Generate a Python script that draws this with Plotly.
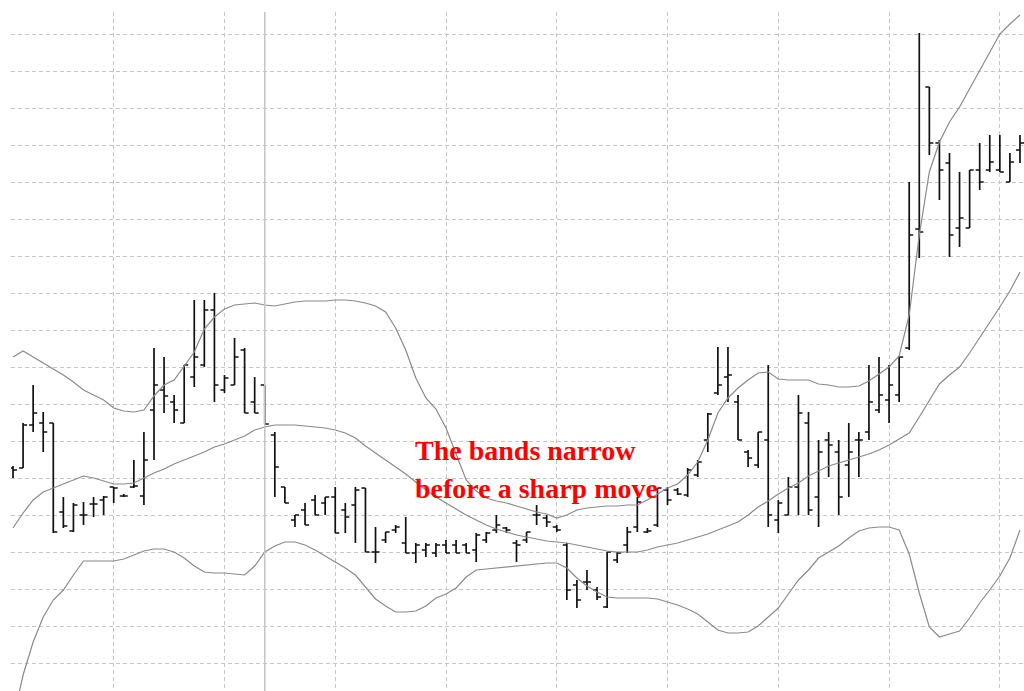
import plotly.graph_objects as go

# Bar index (one bar per session)
bars = list(range(101))

opens = [232, 232, 275, 277, 277, 188, 169, 185, 196, 200,
         213, 204, 213, 204, 290, 310, 298, 277, 323, 335,
         390, 310, 315, 350, 298, 315, 265, 213, 180, 190,
         200, 197, 203, 190, 195, 212, 148, 160, 170, 157,
         147, 150, 147, 155, 155, 155, 150, 160, 170, 172,
         157, 160, 185, 182, 173, 155, 115, 118, 110, 93,
         140, 155, 173, 168, 175, 210, 210, 205, 225, 260,
         307, 323, 298, 248, 235, 260, 180, 185, 213, 277,
         203, 260, 248, 235, 260, 268, 290, 300, 305, 352,
         471, 613, 557, 537, 472, 472, 530, 530, 530, 518, 550]
highs = [234, 277, 315, 288, 277, 203, 197, 198, 203, 204,
         213, 206, 240, 268, 352, 343, 305, 335, 400, 400,
         407, 325, 362, 352, 323, 315, 268, 213, 185, 197,
         205, 203, 213, 197, 213, 212, 173, 168, 175, 183,
         157, 157, 157, 160, 160, 157, 167, 168, 185, 173,
         160, 168, 195, 185, 175, 157, 120, 130, 113, 148,
         148, 173, 203, 172, 212, 213, 212, 232, 240, 287,
         353, 353, 305, 250, 268, 335, 200, 223, 305, 288,
         260, 268, 260, 277, 268, 335, 343, 335, 343, 518,
         667, 613, 560, 547, 528, 530, 557, 565, 565, 547, 565]
lows = [222, 232, 268, 248, 167, 172, 168, 175, 183, 185,
        197, 203, 212, 195, 240, 287, 277, 277, 313, 333,
        298, 307, 315, 287, 287, 276, 203, 197, 173, 175,
        185, 185, 167, 167, 157, 148, 137, 157, 167, 147,
        137, 143, 143, 147, 147, 147, 138, 157, 167, 167,
        138, 157, 175, 173, 168, 100, 92, 110, 100, 92,
        137, 147, 168, 167, 173, 195, 205, 203, 223, 248,
        305, 298, 260, 233, 232, 173, 167, 185, 185, 185,
        173, 223, 185, 203, 223, 260, 287, 277, 298, 350,
        442, 545, 500, 443, 453, 472, 510, 528, 528, 518, 537]
closes = [230, 275, 287, 268, 168, 174, 195, 185, 196, 203,
          212, 204, 214, 240, 315, 304, 290, 335, 343, 390,
          315, 322, 343, 287, 287, 276, 233, 197, 185, 175,
          185, 203, 167, 183, 210, 148, 148, 168, 173, 147,
          155, 155, 155, 147, 147, 147, 165, 167, 175, 170,
          155, 168, 185, 178, 170, 110, 100, 118, 103, 148,
          147, 168, 198, 169, 212, 200, 206, 230, 238, 286,
          315, 325, 260, 242, 268, 185, 197, 213, 287, 190,
          248, 255, 203, 248, 260, 298, 305, 315, 343, 465,
          468, 557, 530, 465, 482, 530, 518, 538, 528, 538, 557]

upper_band = [343, 349, 343, 337, 331, 325, 318, 310, 305, 300,
              292, 289, 288, 290, 304, 315, 320, 334, 348, 371,
              383, 391, 395, 396, 397, 395, 394, 396, 398, 399,
              399, 399, 400, 400, 399, 397, 394, 388, 372, 350,
              322, 302, 291, 272, 246, 220, 209, 202, 199, 197,
              194, 191, 188, 186, 182, 185, 190, 192, 193, 194,
              194, 195, 195, 200, 206, 212, 216, 225, 238, 260,
              287, 302, 312, 320, 327, 328, 321, 320, 320, 320,
              316, 315, 313, 313, 314, 319, 326, 333, 344, 385,
              465, 528, 558, 578, 593, 611, 630, 648, 666, 676, 685]
middle_band = [172, 187, 200, 208, 212, 216, 220, 224, 222, 219,
               216, 216, 217, 222, 227, 231, 236, 240, 244, 248,
               253, 256, 260, 264, 270, 273, 275, 275, 275, 274,
               273, 272, 270, 267, 262, 254, 247, 240, 233, 226,
               218, 210, 203, 197, 191, 185, 180, 175, 171, 168,
               165, 163, 161, 159, 158, 157, 155, 153, 151, 149,
               148, 148, 148, 150, 153, 155, 157, 160, 163, 166,
               170, 174, 178, 185, 193, 199, 206, 212, 217, 224,
               229, 234, 237, 240, 243, 246, 250, 255, 261, 267,
               283, 300, 316, 325, 333, 347, 362, 378, 393, 409, 428]
lower_band = [-20, 25, 58, 83, 100, 110, 125, 139, 139, 139,
              139, 141, 145, 149, 151, 151, 148, 142, 134, 128,
              127, 127, 126, 125, 134, 148, 154, 158, 158, 155,
              150, 144, 138, 132, 125, 113, 101, 94, 88, 88,
              89, 94, 102, 106, 112, 123, 130, 131, 132, 133,
              134, 135, 136, 137, 137, 132, 122, 114, 108, 103,
              102, 102, 102, 102, 101, 98, 95, 91, 86, 78,
              70, 67, 67, 68, 74, 83, 92, 106, 120, 130,
              142, 148, 154, 162, 169, 172, 173, 173, 170, 146,
              107, 73, 63, 66, 69, 82, 97, 110, 124, 142, 170]

note_lines = ["The bands narrow", "before a sharp move"]
note_bar = 39.7
note_prices = [250, 212]
marker_bar = 25

fig = go.Figure()
band_style = dict(color="#8a8a8a", width=1.2)
for band in (upper_band, middle_band, lower_band):
    fig.add_trace(go.Scatter(x=bars, y=band, mode="lines", line=band_style,
                             hoverinfo="skip", showlegend=False))

fig.add_trace(go.Ohlc(x=bars, open=opens, high=highs, low=lows, close=closes,
                      increasing=dict(line=dict(color="#111111", width=1.7)),
                      decreasing=dict(line=dict(color="#111111", width=1.7)),
                      tickwidth=0.4, showlegend=False, hoverinfo="skip"))

fig.add_vline(x=marker_bar, line=dict(color="#c4c4c4", width=1.5))

for txt, p in zip(note_lines, note_prices):
    fig.add_annotation(x=note_bar, y=p, text="<b>" + txt + "</b>", showarrow=False,
                       xanchor="left", yanchor="middle",
                       font=dict(family="Liberation Serif", size=28, color="#ff0000"))

grid = dict(showgrid=True, gridcolor="#c6c6c6", gridwidth=1, griddash="4px,3px",
            showticklabels=False, zeroline=False, showline=False, ticks="")
fig.update_xaxes(range=[-0.2, 100.4], tick0=10, dtick=11, rangeslider=dict(visible=False), **grid)
fig.update_yaxes(range=[9, 688], tick0=37, dtick=37, **grid)

fig.update_layout(width=1024, height=691, margin=dict(l=11, r=0, t=12, b=0),
                  plot_bgcolor="white", paper_bgcolor="white", showlegend=False)

fig.write_html("out.html", config={"displayModeBar": False},
               post_script="document.body.style.margin='0px';")
